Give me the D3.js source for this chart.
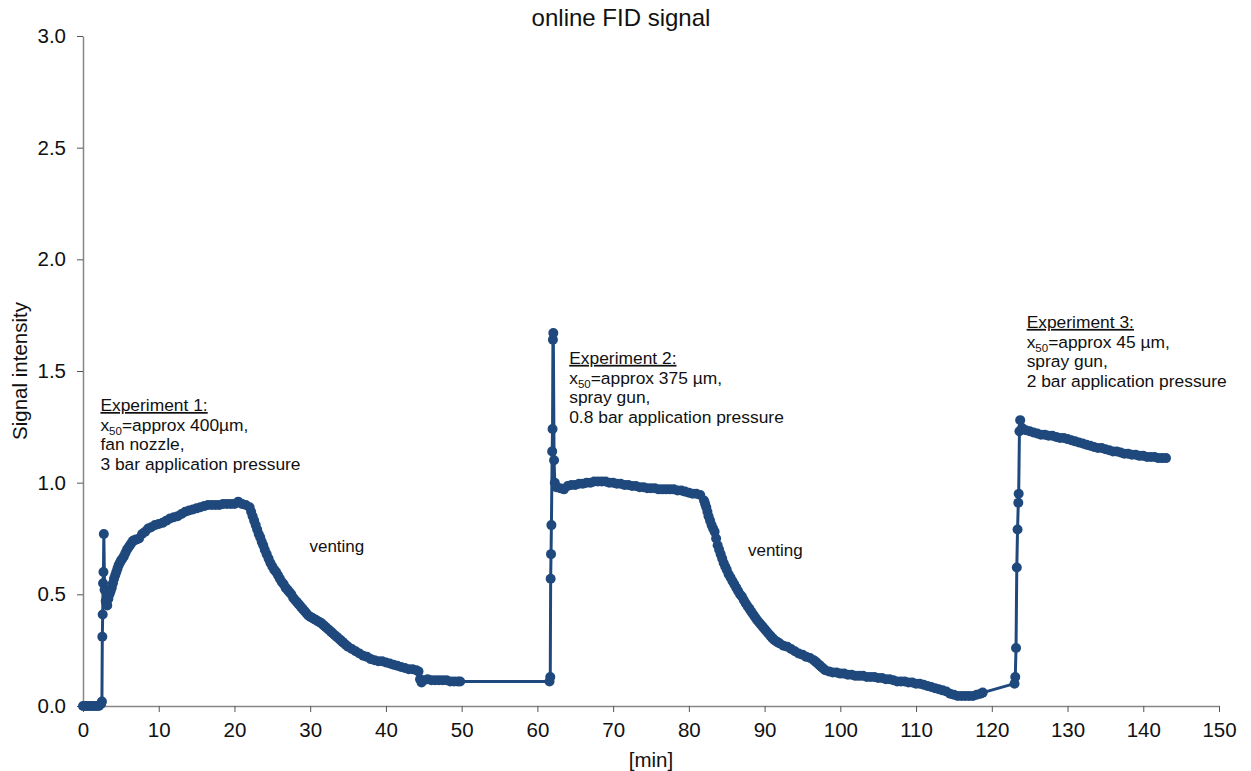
<!DOCTYPE html>
<html>
<head>
<meta charset="utf-8">
<script src="https://cdn.jsdelivr.net/npm/d3@7"></script>
<style>
  html, body { margin: 0; padding: 0; background: #fff; }
  svg { display: block; font-family: Arial, "Liberation Sans", sans-serif; }
</style>
</head>
<body>
<svg id="chart" width="1251" height="771"></svg>
<script>
// ---- Data (minutes, signal intensity) ----
const exp1Min = [0,0.3,0.6,0.9,1.2,1.5,1.8,2.1,2.4,2.5,2.55,2.6,2.65,2.7,2.75,2.85,3.0,3.2,3.5,3.8,4.1,4.4,4.7,5.0,5.4,5.8,6.2,6.6,7.0,7.4,7.8,8.2,8.6,9.0,9.5,10,10.5,11,11.5,12,12.5,13,13.5,14,14.5,15,15.5,16,16.5,17,17.5,18,18.5,19,19.5,20,20.5,21,21.5,22,22.4,22.8,23.2,23.6,24,24.5,25,25.5,26,26.5,27,27.5,28,28.5,29,29.5,30,30.5,31,31.5,32,32.5,33,33.5,34,34.5,35,35.5,36,36.5,37,37.5,38,38.5,39,39.5,40,40.5,41,41.5,42,42.5,43,43.5,44,44.3,44.5,44.7,45,45.5,46,46.5,47,47.5,48,48.5,49,49.5,49.8];
const exp1Sig = [0,0,0,0,0,0,0,0,0.01,0.02,0.31,0.41,0.55,0.6,0.77,0.52,0.47,0.45,0.5,0.53,0.57,0.6,0.63,0.65,0.67,0.7,0.72,0.74,0.745,0.75,0.77,0.78,0.795,0.8,0.81,0.815,0.82,0.83,0.84,0.845,0.85,0.86,0.87,0.875,0.88,0.885,0.89,0.895,0.9,0.9,0.9,0.9,0.905,0.905,0.905,0.905,0.915,0.905,0.9,0.89,0.85,0.81,0.77,0.735,0.7,0.66,0.625,0.6,0.57,0.545,0.52,0.5,0.475,0.455,0.435,0.415,0.4,0.39,0.38,0.37,0.355,0.34,0.325,0.31,0.295,0.28,0.265,0.255,0.245,0.235,0.225,0.22,0.21,0.205,0.2,0.2,0.195,0.19,0.185,0.18,0.175,0.17,0.165,0.165,0.16,0.155,0.12,0.105,0.115,0.12,0.115,0.115,0.115,0.115,0.115,0.11,0.11,0.11,0.11];
const exp1ExtraMin = [3.1,3.35,3.65,3.95,4.25,4.55,4.85,5.2,5.6,6.0,6.4,6.8,22.2,22.6,23,23.4,23.8,24.25,24.75,25.25,25.75,26.25,26.75,27.25,27.75,28.25,28.75,29.25,29.75,30.25,30.75,31.25,31.75,32.25,32.75,33.25,33.75,34.25,34.75];
const exp1ExtraSig = [0.46,0.48,0.515,0.55,0.585,0.615,0.64,0.66,0.685,0.71,0.73,0.742,0.87,0.83,0.79,0.755,0.72,0.68,0.64,0.61,0.585,0.555,0.53,0.51,0.485,0.465,0.445,0.425,0.405,0.395,0.385,0.375,0.362,0.347,0.332,0.317,0.302,0.287,0.272];

const exp2Min = [61.6,61.7,61.75,61.8,61.85,61.95,62.0,62.05,62.1,62.2,62.3,62.5,63,63.5,64,64.5,65,65.5,66,66.5,67,67.5,68,68.5,69,69.5,70,70.5,71,71.5,72,72.5,73,73.5,74,74.5,75,75.5,76,76.5,77,77.5,78,78.5,79,79.5,80,80.5,81,81.5,82,82.3,82.6,83,83.4,83.8,84.2,84.6,85,85.5,86,86.5,87,87.5,88,88.5,89,89.5,90,90.5,91,91.5,92,92.5,93,93.5,94,94.5,95,95.5,96,96.5,97,97.5,98,98.5,99,99.5,100,100.5,101,101.5,102,102.5,103,103.5,104,104.5,105,105.5,106,106.5,107,107.5,108,108.5,109,109.5,110,110.5,111,111.5,112,112.5,113,113.5,114,114.5,115,115.5,116,116.5,117,117.5,118,118.5,118.8];
const exp2Sig = [0.11,0.13,0.57,0.68,0.81,1.14,1.24,1.64,1.67,1.10,1.0,0.98,0.975,0.97,0.985,0.99,0.99,0.995,0.995,1.0,1.0,1.005,1.005,1.005,1.005,1.0,1.0,0.995,0.995,0.99,0.99,0.985,0.985,0.98,0.98,0.975,0.975,0.975,0.97,0.97,0.97,0.97,0.97,0.965,0.965,0.96,0.955,0.95,0.95,0.945,0.92,0.89,0.85,0.81,0.78,0.72,0.68,0.64,0.61,0.575,0.545,0.515,0.49,0.46,0.435,0.41,0.385,0.365,0.345,0.325,0.305,0.29,0.28,0.27,0.265,0.255,0.245,0.235,0.23,0.22,0.215,0.205,0.19,0.175,0.16,0.155,0.15,0.15,0.145,0.145,0.14,0.14,0.135,0.135,0.135,0.13,0.13,0.13,0.125,0.125,0.12,0.12,0.115,0.11,0.11,0.11,0.105,0.105,0.1,0.1,0.095,0.09,0.085,0.08,0.075,0.07,0.065,0.055,0.05,0.045,0.045,0.045,0.045,0.045,0.05,0.055,0.06];
const exp2ExtraMin = [82.15,82.45,82.8,83.2,83.6,84.0,84.4,84.8,85.25,85.75,86.25,86.75,87.25,87.75,88.25,88.75,89.25,89.75,90.25,90.75,91.25,91.75,96.75,97.25,97.75];
const exp2ExtraSig = [0.905,0.87,0.83,0.795,0.75,0.70,0.66,0.625,0.59,0.56,0.53,0.5,0.475,0.447,0.422,0.397,0.375,0.355,0.335,0.315,0.297,0.285,0.198,0.183,0.168];

const exp3Min = [123.0,123.1,123.2,123.3,123.4,123.5,123.55,123.65,123.75,124,124.5,125,125.5,126,126.5,127,127.5,128,128.5,129,129.5,130,130.5,131,131.5,132,132.5,133,133.5,134,134.5,135,135.5,136,136.5,137,137.5,138,138.5,139,139.5,140,140.5,141,141.5,142,142.5,143];
const exp3Sig = [0.1,0.13,0.26,0.62,0.79,0.91,0.95,1.23,1.28,1.245,1.235,1.23,1.225,1.22,1.215,1.215,1.21,1.21,1.205,1.2,1.2,1.195,1.19,1.185,1.18,1.175,1.17,1.165,1.16,1.155,1.155,1.15,1.145,1.14,1.14,1.135,1.13,1.13,1.125,1.125,1.12,1.12,1.115,1.115,1.115,1.11,1.11,1.11];

const xTicks = [0,10,20,30,40,50,60,70,80,90,100,110,120,130,140,150];
const yTicks = [0,0.5,1.0,1.5,2.0,2.5,3.0];

const annotations = [
  { t: 2.3, v: 1.321, head: "Experiment 1:", size: "=approx 400µm,", l2: "fan nozzle,", l3: "3 bar application pressure" },
  { t: 64.2, v: 1.532, head: "Experiment 2:", size: "=approx 375 µm,", l2: "spray gun,", l3: "0.8 bar application pressure" },
  { t: 124.6, v: 1.693, head: "Experiment 3:", size: "=approx 45 µm,", l2: "spray gun,", l3: "2 bar application pressure" }
];
const ventLabels = [ { t: 29.9, v: 0.69, text: "venting" }, { t: 87.8, v: 0.672, text: "venting" } ];

// ---- Build combined series ----
const minutes = exp1Min.concat(exp1ExtraMin, exp2Min, exp2ExtraMin, exp3Min);
const signal = exp1Sig.concat(exp1ExtraSig, exp2Sig, exp2ExtraSig, exp3Sig);
const data = minutes.map((m, i) => ({ m, s: signal[i] })).sort((a, b) => a.m - b.m);

// ---- Layout ----
const svg = d3.select("#chart");
const margin = { left: 83, right: 32, top: 36, bottom: 65 };
const W = 1251, H = 771;
const x = d3.scaleLinear().domain([0, 150]).range([margin.left, W - margin.right]);
const y = d3.scaleLinear().domain([0, 3]).range([H - margin.bottom, margin.top]);

const axisColor = "#878787";
const lineColor = "#1f497d";

// Axes
const xAxis = svg.append("g").attr("transform", `translate(0,${y(0)})`)
  .call(d3.axisBottom(x).tickValues(xTicks).tickFormat(d3.format("d")).tickSize(6).tickSizeOuter(0).tickPadding(6));
const yAxis = svg.append("g").attr("transform", `translate(${x(0)},0)`)
  .call(d3.axisLeft(y).tickValues(yTicks).tickFormat(d3.format(".1f")).tickSize(6).tickSizeOuter(0).tickPadding(11));
[xAxis, yAxis].forEach(g => {
  g.select(".domain").attr("stroke", axisColor).attr("stroke-width", 1.5);
  g.selectAll(".tick line").attr("stroke", "#555").attr("stroke-width", 1);
  g.selectAll(".tick text").attr("fill", "#111").attr("font-size", "20.5px")
    .attr("font-family", "Arial, 'Liberation Sans', sans-serif");
});
xAxis.selectAll(".tick text").attr("dy", "0.95em");

// Title & axis labels
svg.append("text").attr("x", 621).attr("y", 26).attr("text-anchor", "middle")
  .attr("font-size", "24px").attr("fill", "#111").text("online FID signal");
svg.append("text").attr("transform", `translate(27,${(y(0)+y(3))/2}) rotate(-90)`)
  .attr("text-anchor", "middle").attr("font-size", "20.5px").attr("fill", "#111").text("Signal intensity");
svg.append("text").attr("x", (x(0)+x(150))/2).attr("y", 767).attr("text-anchor", "middle")
  .attr("font-size", "20.5px").attr("fill", "#111").text("[min]");

// Series line + markers
const line = d3.line().x(d => x(d.m)).y(d => y(d.s));
svg.append("path").datum(data).attr("d", line).attr("fill", "none")
  .attr("stroke", lineColor).attr("stroke-width", 3).attr("stroke-linejoin", "round");
svg.append("g").selectAll("circle").data(data).join("circle")
  .attr("cx", d => x(d.m)).attr("cy", d => y(d.s)).attr("r", 5).attr("fill", lineColor);

// Annotations
const lh = 19.7;
annotations.forEach(a => {
  const g = svg.append("g").attr("font-size", "17.4px").attr("fill", "#111");
  const x0 = x(a.t), y0 = y(a.v);
  g.append("text").attr("x", x0).attr("y", y0).attr("text-decoration", "underline").text(a.head);
  const t1 = g.append("text").attr("x", x0).attr("y", y0 + lh);
  t1.append("tspan").text("x");
  t1.append("tspan").attr("font-size", "11.5px").attr("dy", 4).text("50");
  t1.append("tspan").attr("dy", -4).text(a.size);
  g.append("text").attr("x", x0).attr("y", y0 + 2 * lh).text(a.l2);
  g.append("text").attr("x", x0).attr("y", y0 + 3 * lh).text(a.l3);
});
ventLabels.forEach(v => {
  svg.append("text").attr("x", x(v.t)).attr("y", y(v.v)).attr("font-size", "17px").attr("fill", "#111").text(v.text);
});
</script>
</body>
</html>
